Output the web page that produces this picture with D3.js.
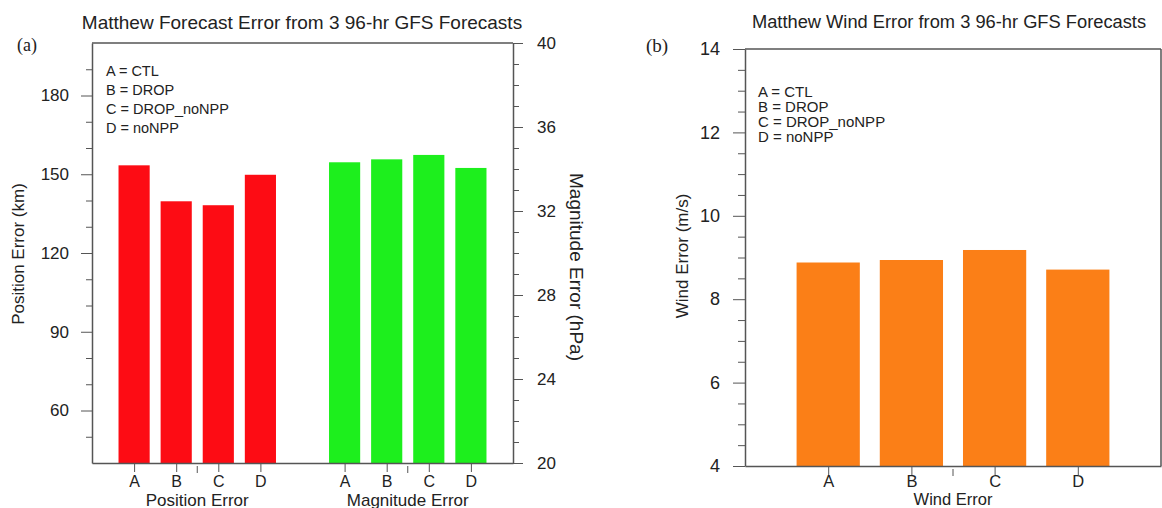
<!DOCTYPE html>
<html><head><meta charset="utf-8">
<script src="https://cdn.jsdelivr.net/npm/d3@7"></script>
<style>
html,body{margin:0;padding:0;background:#fff;}
svg{display:block;font-family:"Liberation Sans",Arial,Helvetica,sans-serif;}
</style></head>
<body>
<svg id="chart" width="1162" height="508"></svg>
<script>
// ---- data ----
const categories = ["A", "B", "C", "D"];
const legendLines = ["A = CTL", "B = DROP", "C = DROP_noNPP", "D = noNPP"];
const positionError = [153.4, 139.7, 138.2, 149.8];      // km
const magnitudeError = [34.32, 34.46, 34.67, 34.05];     // hPa
const windError = [8.88, 8.94, 9.18, 8.71];              // m/s
const posTicks = [60, 90, 120, 150, 180];
const magTicks = [20, 24, 28, 32, 36, 40];
const windTicks = [4, 6, 8, 10, 12, 14];
const titleA = "Matthew Forecast Error from 3 96-hr GFS Forecasts";
const titleB = "Matthew Wind Error from 3 96-hr GFS Forecasts";

const svg = d3.select("#chart");
const frameColor = "#555";
const textColor = "#222";
const red = "#fd0c14", green = "#1def1d", orange = "#fb7f17";
const serif = "'Liberation Serif','Times New Roman',serif";

function styleAxis(g, fs) {
  g.select(".domain").attr("stroke", frameColor).attr("stroke-width", 1.5);
  g.selectAll(".tick line").attr("stroke", frameColor);
  g.selectAll(".tick text").attr("fill", textColor).attr("font-size", fs)
    .attr("font-family", "'Liberation Sans',Arial,sans-serif");
}
function minor(g) {
  g.select(".domain").remove();
  g.selectAll(".tick line").attr("stroke", frameColor);
}

// ---------------- Panel (a) ----------------
const A = {left: 92, right: 513, top: 43, bottom: 463};
const xA = d3.scaleLinear().domain([0, 10]).range([A.left, A.right]);
const yPos = d3.scaleLinear().domain([40, 200]).range([A.bottom, A.top]);
const yMag = d3.scaleLinear().domain([20, 40]).range([A.bottom, A.top]);
const bwA = xA(0.74) - xA(0);
const posSlots = [1, 2, 3, 4], magSlots = [6, 7, 8, 9];

const gA = svg.append("g");
gA.selectAll("rect.pos").data(positionError).join("rect").attr("class", "pos")
  .attr("x", (d, i) => xA(posSlots[i]) - bwA / 2).attr("width", bwA)
  .attr("y", d => yPos(d)).attr("height", d => yPos(40) - yPos(d))
  .attr("fill", red);
gA.selectAll("rect.mag").data(magnitudeError).join("rect").attr("class", "mag")
  .attr("x", (d, i) => xA(magSlots[i]) - bwA / 2).attr("width", bwA)
  .attr("y", d => yMag(d)).attr("height", d => yMag(20) - yMag(d))
  .attr("fill", green);

// left axis
gA.append("g").attr("transform", `translate(${A.left},0)`)
  .call(d3.axisLeft(yPos).tickValues(posTicks).tickSize(11).tickPadding(12).tickSizeOuter(0))
  .call(styleAxis, 17);
gA.append("g").attr("transform", `translate(${A.left},0)`)
  .call(d3.axisLeft(yPos).tickValues(d3.range(50, 200, 10).filter(v => !posTicks.includes(v))).tickSize(6).tickFormat("").tickSizeOuter(0))
  .call(minor);
// right axis
gA.append("g").attr("transform", `translate(${A.right},0)`)
  .call(d3.axisRight(yMag).tickValues(magTicks).tickSize(10).tickPadding(14).tickSizeOuter(0))
  .call(styleAxis, 17);
gA.append("g").attr("transform", `translate(${A.right},0)`)
  .call(d3.axisRight(yMag).tickValues(d3.range(21, 40, 1).filter(v => !magTicks.includes(v))).tickSize(6).tickFormat("").tickSizeOuter(0))
  .call(minor);
// bottom axis
const slotLabel = new Map([...posSlots.map((s, i) => [s, categories[i]]), ...magSlots.map((s, i) => [s, categories[i]])]);
gA.append("g").attr("transform", `translate(0,${A.bottom})`)
  .call(d3.axisBottom(xA).tickValues([...posSlots, ...magSlots]).tickFormat(d => slotLabel.get(d)).tickSize(9).tickPadding(4).tickSizeOuter(0))
  .call(styleAxis, 16);
gA.append("g").selectAll("line").data([2.5, 7.5]).join("line")
  .attr("x1", d => xA(d)).attr("x2", d => xA(d))
  .attr("y1", A.bottom + 3).attr("y2", A.bottom + 10).attr("stroke", frameColor);
// top frame
gA.append("line").attr("x1", A.left).attr("x2", A.right).attr("y1", A.top).attr("y2", A.top)
  .attr("stroke", frameColor).attr("stroke-width", 1.5);

// legend
gA.append("g").selectAll("text").data(legendLines).join("text")
  .attr("x", A.left + 14).attr("y", (d, i) => 75.5 + i * 19.3)
  .attr("font-size", 14.5).attr("fill", textColor).text(d => d);

// titles and labels
gA.append("text").attr("x", 302).attr("y", 29).attr("text-anchor", "middle")
  .attr("font-size", 19).attr("fill", textColor).text(titleA);
gA.append("text").attr("x", 17).attr("y", 51).attr("font-family", serif)
  .attr("font-size", 18).attr("fill", textColor).text("(a)");
gA.append("text").attr("transform", `translate(24,254) rotate(-90)`).attr("text-anchor", "middle")
  .attr("font-size", 17).attr("fill", textColor).text("Position Error (km)");
gA.append("text").attr("transform", `translate(570,267) rotate(90)`).attr("text-anchor", "middle")
  .attr("font-size", 19).attr("fill", textColor).text("Magnitude Error (hPa)");
gA.append("text").attr("x", xA(2.5)).attr("y", 505.5).attr("text-anchor", "middle")
  .attr("font-size", 17).attr("fill", textColor).text("Position Error");
gA.append("text").attr("x", xA(7.5)).attr("y", 505.5).attr("text-anchor", "middle")
  .attr("font-size", 17).attr("fill", textColor).text("Magnitude Error");

// ---------------- Panel (b) ----------------
const B = {left: 745, right: 1161, top: 49, bottom: 466};
const xB = d3.scaleLinear().domain([0, 5]).range([B.left, B.right]);
const yW = d3.scaleLinear().domain([4, 14]).range([B.bottom, B.top]);
const bwB = xB(0.76) - xB(0);
const gB = svg.append("g");
gB.selectAll("rect").data(windError).join("rect")
  .attr("x", (d, i) => xB(i + 1) - bwB / 2).attr("width", bwB)
  .attr("y", d => yW(d)).attr("height", d => yW(4) - yW(d))
  .attr("fill", orange);
gB.append("g").attr("transform", `translate(${B.left},0)`)
  .call(d3.axisLeft(yW).tickValues(windTicks).tickSize(12).tickPadding(13).tickSizeOuter(0))
  .call(styleAxis, 18);
gB.append("g").attr("transform", `translate(${B.left},0)`)
  .call(d3.axisLeft(yW).tickValues(d3.range(4.5, 14, 0.5).filter(v => !windTicks.includes(v))).tickSize(7).tickFormat("").tickSizeOuter(0))
  .call(minor);
gB.append("g").attr("transform", `translate(0,${B.bottom})`)
  .call(d3.axisBottom(xB).tickValues([1, 2, 3, 4]).tickFormat(d => categories[d - 1]).tickSize(9).tickPadding(0).tickSizeOuter(0))
  .call(styleAxis, 16.5);
gB.append("line").attr("x1", xB(2.5)).attr("x2", xB(2.5))
  .attr("y1", B.bottom + 3).attr("y2", B.bottom + 10).attr("stroke", frameColor);
gB.append("line").attr("x1", B.left).attr("x2", B.right).attr("y1", B.top).attr("y2", B.top)
  .attr("stroke", frameColor).attr("stroke-width", 1.5);
gB.append("line").attr("x1", B.right).attr("x2", B.right).attr("y1", B.top).attr("y2", B.bottom)
  .attr("stroke", frameColor).attr("stroke-width", 1.5);

gB.append("g").selectAll("text").data(legendLines).join("text")
  .attr("x", B.left + 13).attr("y", (d, i) => 97 + i * 15)
  .attr("font-size", 15).attr("fill", textColor).text(d => d);
gB.append("text").attr("x", 949).attr("y", 28).attr("text-anchor", "middle")
  .attr("font-size", 18.3).attr("fill", textColor).text(titleB);
gB.append("text").attr("x", 646).attr("y", 52).attr("font-family", serif)
  .attr("font-size", 19).attr("fill", textColor).text("(b)");
gB.append("text").attr("transform", `translate(688,256) rotate(-90)`).attr("text-anchor", "middle")
  .attr("font-size", 17).attr("fill", textColor).text("Wind Error (m/s)");
gB.append("text").attr("x", xB(2.5)).attr("y", 505).attr("text-anchor", "middle")
  .attr("font-size", 16.5).attr("fill", textColor).text("Wind Error");
</script>
</body></html>
